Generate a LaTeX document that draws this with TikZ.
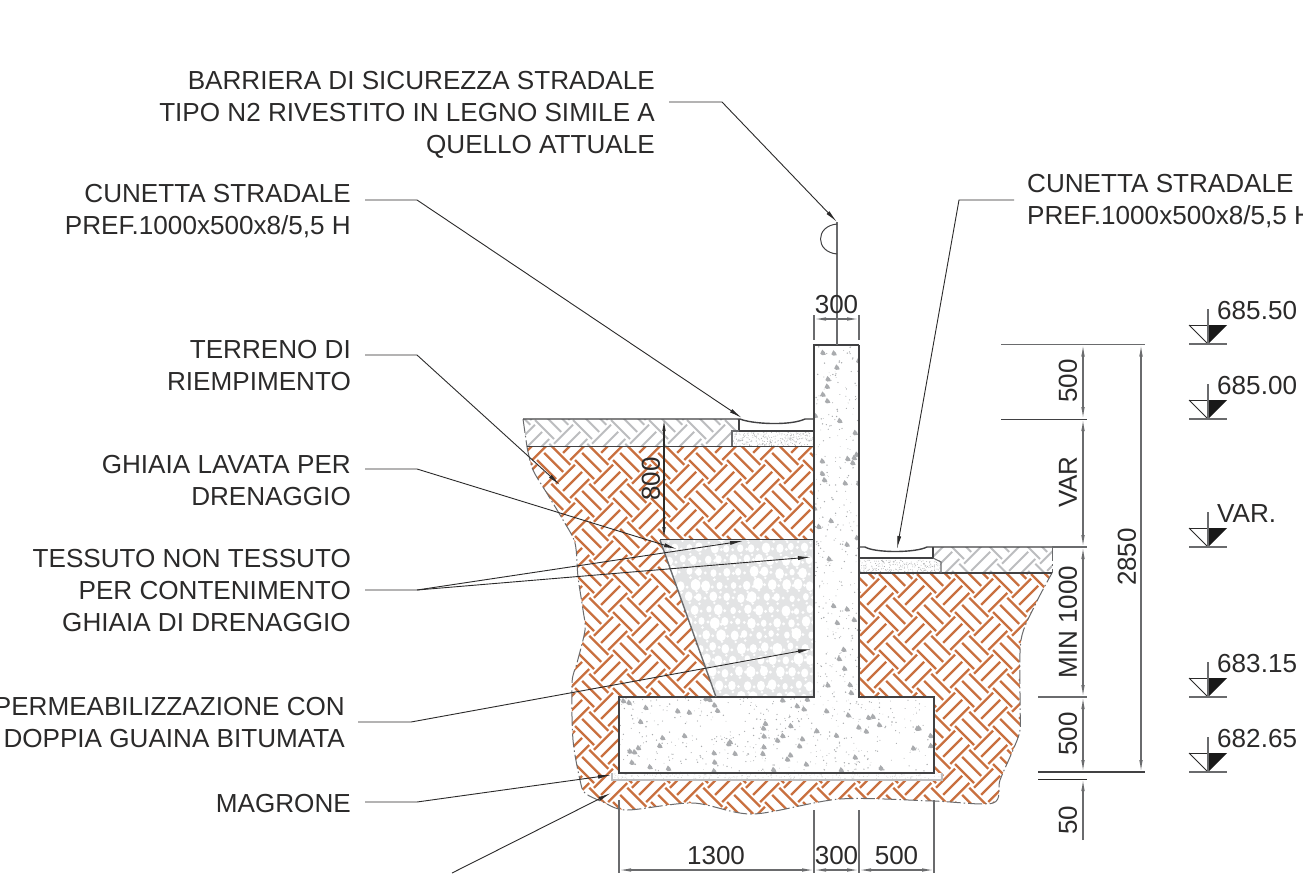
\documentclass[tikz,border=0pt]{standalone}
\usepackage{fontspec}
\setmainfont{Liberation Sans}
\usetikzlibrary{arrows.meta}
\definecolor{ink}{HTML}{2B2A2A}
\definecolor{dimc}{HTML}{6A6B6D}
\definecolor{wallc}{HTML}{414143}
\definecolor{soil}{HTML}{C9703F}
\definecolor{hatchg}{HTML}{BCBDBF}
\definecolor{grav}{HTML}{E3E4E5}
\definecolor{speck}{HTML}{A9ABAE}
\tikzset{
 lbl/.style={text=ink,inner sep=0pt,align=right,anchor=east,font=\fontsize{26.1}{32}\selectfont},
 lbll/.style={text=ink,inner sep=0pt,align=left,anchor=west,font=\fontsize{26.1}{32}\selectfont},
 dimt/.style={text=ink,inner sep=0pt,font=\fontsize{26}{30}\selectfont},
 leader/.style={draw=ink,line width=.9pt,-{Latex[length=13pt,width=4pt]}},
 extl/.style={draw=dimc,line width=1.1pt},
 dimln/.style={draw=dimc,line width=1.1pt,{Latex[length=12pt,width=3.5pt]}-{Latex[length=12pt,width=3.5pt]}},
 dimone/.style={draw=dimc,line width=1.1pt,-{Latex[length=12pt,width=3.5pt]}},
 wall/.style={draw=wallc,line width=2.4pt},
 thinw/.style={draw=wallc,line width=1.4pt},
 cutl/.style={draw=dimc,line width=1pt,dash pattern=on 14pt off 3pt on 1.5pt off 3pt},
}
% basket-weave earth hatch at 45 degrees
% #1 origin, #2 k (=L/sqrt2), #3 colour, #4 width, #5 list of s, #6 list of d
\newcommand\earthh[6]{%
 \begin{scope}[shift={#1},x={(#2pt,-#2pt)},y={(#2pt,#2pt)}]
 \draw[#3,line width=#4pt] foreach \s in {#5}{ foreach \d in {#6}{
   ({(\s+\d)/2},{(\s-\d)/2}) -- ++(1,0)
   ({(\s+\d)/2},{(\s-\d)/2+.375}) -- ++(1,0)
   ({(\s+\d)/2},{(\s-\d)/2+.75}) -- ++(1,0)
   ({(\s+\d)/2+.125},{(\s-\d)/2+.875}) -- ++(0,1)
   ({(\s+\d)/2+.5},{(\s-\d)/2+.875}) -- ++(0,1)
   ({(\s+\d)/2+.875},{(\s-\d)/2+.875}) -- ++(0,1) } };
 \end{scope}}
\newcommand\lvl[4]{% name, x, y base, label
 \begin{scope}[shift={(#2,#3)}]
 \draw[line width=.8pt,draw=ink] (-19,-19) -- (0,0);
 \draw[line width=.8pt,draw=ink] (-19,-19) -- (0,-19);
 \fill[black!90] (0,-19) -- (19,-19) -- (0,0) -- cycle;
 \draw[dimc,line width=1.1pt] (-19,0) -- (19,0);
 \draw[dimc,line width=1.1pt] (0,-35) -- (0,0);
 \node[lbll] (#1) at (9,-33) {#4};
 \end{scope}}
\begin{document}
\begin{tikzpicture}[x=1pt,y=-1pt]
\useasboundingbox (0,0) rectangle (1303,873);
\fill[white] (0,0) rectangle (1303,873);
% soil hatch
\begin{scope}
\clip plot[smooth,tension=.5] coordinates {(527,447) (533,470) (548,495) (563,520) (575,543) (578,577) (583,610) (585,630) (577,663) (572,683) (573,740) (580,780) (585,793) (603,802) (627,810) (693,803) (753,814) (840,799) (933,801) (993,803) (1000,780) (1013,750) (1020,730) (1020,700) (1021,640) (1035,605) (1052,573)} -- (859,573) -- (814,447) -- cycle;
\earthh{(537,460)}{19}{soil}{2.2}{-2,0,...,30}{-4,-2,...,20}
\end{scope}
% grey hatch
\begin{scope}
\clip (523,419) -- (739,419) -- (739,431) -- (732,431) -- (732,447) -- (527,447) -- cycle;
\earthh{(535,420)}{19}{hatchg}{2.0}{-2,0,...,12}{-2,0,2}
\end{scope}
\begin{scope}
\clip (933,547) -- (1052,547) -- (1052,573) -- (941,573) -- (941,562) -- (933,558) -- cycle;
\earthh{(945,540)}{19}{hatchg}{2.0}{-2,0,...,6}{-2,0,2}
\end{scope}
% cut line
\draw[cutl] plot[smooth,tension=.5] coordinates {(527,447) (533,470) (548,495) (563,520) (575,543) (578,577) (583,610) (585,630) (577,663) (572,683) (573,740) (580,780) (585,793) (603,802) (627,810) (693,803) (753,814) (840,799) (933,801) (993,803) (1000,780) (1013,750) (1020,730) (1020,700) (1021,640) (1035,605) (1052,573)};
\draw[cutl] (523,419) -- (527,447);
\draw[cutl] (1052,547) -- (1052,573);
% gravel
\begin{scope}
\clip (660,540) -- (814,540) -- (814,697) -- (716,697) -- cycle;
\fill[grav] (650,530) rectangle (820,700);
\pgfmathsetseed{11}
\foreach \r in {0,...,13}{\foreach \c in {0,...,13}{
 \pgfmathsetmacro\xa{655+\c*13+mod(\r,2)*6.5+2*rand}
 \pgfmathsetmacro\ya{535+\r*12.5+1.5*rand}
 \pgfmathsetmacro\rxa{2.6+2.2*rnd}
 \pgfmathsetmacro\rya{\rxa*1.25}
 \fill[white] (\xa,\ya) ellipse[x radius=\rxa,y radius=\rya];
 \fill[white] (\xa+6.5,\ya+1) circle[radius=1.6];
 \fill[white] (\xa+1,\ya+6.5) circle[radius=1.4];
}}
\end{scope}
% sand
\begin{scope}
\pgfmathsetseed{5}
\foreach \n in {1,...,260}{
 \pgfmathsetmacro\xa{732+82*rnd}\pgfmathsetmacro\ya{432+14*rnd}
 \fill[speck] (\xa,\ya) circle[radius=.45];}
\foreach \n in {1,...,220}{
 \pgfmathsetmacro\xa{859+82*rnd}\pgfmathsetmacro\ya{560+13*rnd}
 \fill[speck] (\xa,\ya) circle[radius=.45];}
\end{scope}
% magrone
\fill[white] (612,773) rectangle (942,780);
\begin{scope}
\pgfmathsetseed{9}
\foreach \n in {1,...,240}{
 \pgfmathsetmacro\xa{612+330*rnd}\pgfmathsetmacro\ya{773+6*rnd}
 \fill[speck!55] (\xa,\ya) circle[radius=.45];}
\end{scope}
\draw[draw=hatchg,line width=1.2pt] (612,773) -- (612,780) -- (942,780) -- (942,773);
% concrete
\begin{scope}
\clip (814,345) -- (859,345) -- (859,697) -- (934,697) -- (934,773) -- (619,773) -- (619,697) -- (814,697) -- cycle;
\fill[white] (600,340) rectangle (950,780);
\pgfmathsetseed{3}
\foreach \n in {1,...,420}{
 \pgfmathsetmacro\xa{619+315*rnd}\pgfmathsetmacro\ya{697+76*rnd}
 \pgfmathsetmacro\ra{.3+.5*rnd}
 \fill[speck] (\xa,\ya) circle[radius=\ra];}
\foreach \n in {1,...,60}{
 \pgfmathsetmacro\xa{619+315*rnd}\pgfmathsetmacro\ya{697+76*rnd}
 \fill[speck] (\xa-2.5,\ya+1) -- (\xa-.5,\ya-3) -- (\xa+2,\ya-.5) -- (\xa+3,\ya+2) -- (\xa-.5,\ya+2.5) -- cycle;}
\foreach \n in {1,...,300}{
 \pgfmathsetmacro\xa{814+45*rnd}\pgfmathsetmacro\ya{345+352*rnd}
 \pgfmathsetmacro\ra{.3+.5*rnd}
 \fill[speck] (\xa,\ya) circle[radius=\ra];}
\foreach \n in {1,...,36}{
 \pgfmathsetmacro\xa{814+45*rnd}\pgfmathsetmacro\ya{345+352*rnd}
 \fill[speck] (\xa-2.5,\ya+1) -- (\xa-.5,\ya-3) -- (\xa+2,\ya-.5) -- (\xa+3,\ya+2) -- (\xa-.5,\ya+2.5) -- cycle;}
\end{scope}
% structure outlines
\draw[wall] (814,540) -- (814,697) -- (619,697) -- (619,773) -- (934,773) -- (934,697) -- (859,697) -- (859,345);
\draw[thinw] (814,540) -- (814,345) -- (859,345);
\draw[thinw] (660,539.5) -- (814,539.5);
\draw[draw=dimc,line width=1.4pt] (660,540) -- (716,697);
% ground and gutters
\draw[thinw] (523,419) -- (740,419) .. controls (752,424) and (790,426) .. (805,419) -- (814,419);
\draw[thinw] (527,446.5) -- (814,446.5);
\draw[thinw] (739,419) -- (739,431) -- (814,431);
\draw[draw=dimc,line width=1.1pt] (739,431) -- (732,431) -- (732,446);
\draw[thinw] (859,547) -- (865,547) .. controls (875,553) and (915,553) .. (927,547) -- (1052,547);
\draw[thinw] (859,573) -- (1052,573);
\draw[thinw] (933,547) -- (933,558) -- (859,558);
\draw[draw=dimc,line width=1.1pt] (933,558) -- (941,562) -- (941,573);
% barrier
\coordinate (barTop) at (837,222);
\coordinate (barBot) at (837,345);
\draw[draw=dimc,line width=1.1pt] (barTop) -- (barBot);
\draw[draw=wallc,line width=1pt] (837,224) .. controls (815,226) and (815,252) .. (837,254);
% labels
\node[lbl] (n1) at (655,115) {BARRIERA DI SICUREZZA STRADALE\\TIPO N2 RIVESTITO IN LEGNO SIMILE A\\QUELLO ATTUALE};
\node[lbl] (n2) at (351,211) {CUNETTA STRADALE\\PREF.1000x500x8/5,5 H};
\node[lbll] (n3) at (1027,201) {CUNETTA STRADALE\\PREF.1000x500x8/5,5 H};
\node[lbl] (n4) at (351,365.5) {TERRENO DI\\RIEMPIMENTO};
\node[lbl] (n5) at (351,480.5) {GHIAIA LAVATA PER\\DRENAGGIO};
\node[lbl] (n6) at (351,590.5) {TESSUTO NON TESSUTO\\PER CONTENIMENTO\\GHIAIA DI DRENAGGIO};
\node[lbl] (n7) at (345,723) {PERMEABILIZZAZIONE CON\\DOPPIA GUAINA BITUMATA};
\node[lbl] (n8) at (351,803.5) {MAGRONE};
% leaders
\coordinate (a1) at (669,102); \coordinate (b1) at (722,102);
\draw[leader] (a1) -- (b1) -- (barTop);
\coordinate (a2) at (365,200); \coordinate (b2) at (417,200); \coordinate (c2) at (742,418);
\draw[leader] (a2) -- (b2) -- (c2);
\coordinate (a3) at (1014,200); \coordinate (b3) at (959,200); \coordinate (c3) at (897,549);
\draw[leader] (a3) -- (b3) -- (c3);
\coordinate (a4) at (365,355); \coordinate (b4) at (417,355); \coordinate (c4) at (560,485);
\draw[leader] (a4) -- (b4) -- (c4);
\coordinate (a5) at (365,469); \coordinate (b5) at (417,469); \coordinate (c5) at (677,549);
\draw[leader] (a5) -- (b5) -- (c5);
\coordinate (a6) at (365,590); \coordinate (b6) at (417,590); \coordinate (c6) at (743,541); \coordinate (d6) at (811,557);
\draw[leader] (a6) -- (b6) -- (c6);
\draw[leader] (b6) -- (d6);
\coordinate (a7) at (358,722); \coordinate (b7) at (411,722); \coordinate (c7) at (811,649);
\draw[leader] (a7) -- (b7) -- (c7);
\coordinate (a8) at (365,802); \coordinate (b8) at (417,802); \coordinate (c8) at (611,775);
\draw[leader] (a8) -- (b8) -- (c8);
\coordinate (a9) at (452,873); \coordinate (c9) at (611,793);
\draw[leader] (a9) -- (c9);
% dim top 300
\draw[extl] (814,315) -- (814,340);
\draw[extl] (859,315) -- (859,340);
\coordinate (t3a) at (814,319); \coordinate (t3b) at (859,319);
\draw[dimln] (t3a) -- (t3b);
\node[dimt] (d300t) at (836.5,305) {300};
% dim 800
\coordinate (d8a) at (664,419); \coordinate (d8b) at (664,539);
\draw[dimln,draw=ink] (d8a) -- (d8b);
\node[dimt,rotate=90] (d800) at (651,479) {800};
% right ext lines
\draw[extl] (1001,344.5) -- (1145,344.5);
\draw[extl,draw=wallc,line width=.9pt] (1001,419.5) -- (1087,419.5);
\draw[extl] (1052,547) -- (1087,547);
\draw[extl] (1038,697) -- (1087,697);
\draw[extl,draw=wallc,line width=1.5pt] (1038,772) -- (1145,772);
\draw[extl,draw=ink,line width=.9pt] (1038,779) -- (1087,779);
\coordinate (v0) at (1083,344.5); \coordinate (v1) at (1083,419); \coordinate (v2) at (1083,547); \coordinate (v3) at (1083,697); \coordinate (v4) at (1083,772); \coordinate (v5) at (1083,779); \coordinate (v6) at (1083,840);
\draw[dimln] (v0) -- (v1);
\draw[dimln] (v1) -- (v2);
\draw[dimln] (v2) -- (v3);
\draw[dimln] (v3) -- (v4);
\draw[dimone] (v6) -- (v5);
\coordinate (w0) at (1141,344.5); \coordinate (w1) at (1141,772);
\draw[dimln] (w0) -- (w1);
\node[dimt,rotate=90] (r1) at (1068,381) {500};
\node[dimt,rotate=90] (r2) at (1068,482) {VAR};
\node[dimt,rotate=90] (r3) at (1068,622) {MIN 1000};
\node[dimt,rotate=90] (r4) at (1068,734) {500};
\node[dimt,rotate=90] (r5) at (1068,820) {50};
\node[dimt,rotate=90] (r6) at (1127,557) {2850};
% bottom dims
\draw[extl] (619,800) -- (619,873);
\draw[extl] (814,810) -- (814,873);
\draw[extl] (859,810) -- (859,873);
\draw[extl] (934,800) -- (934,873);
\coordinate (h0) at (619,870); \coordinate (h1) at (814,870); \coordinate (h2) at (859,870); \coordinate (h3) at (934,870);
\draw[dimln] (h0) -- (h1);
\draw[dimln] (h1) -- (h2);
\draw[dimln] (h2) -- (h3);
\node[dimt] (b1300) at (716,856) {1300};
\node[dimt] (b300) at (836.5,856) {300};
\node[dimt] (b500) at (896.5,856) {500};
% levels
\lvl{l1}{1208}{344}{685.50}
\lvl{l2}{1208}{419}{685.00}
\lvl{l3}{1208}{547}{VAR.}
\lvl{l4}{1208}{697}{683.15}
\lvl{l5}{1208}{772}{682.65}
\end{tikzpicture}
\end{document}
